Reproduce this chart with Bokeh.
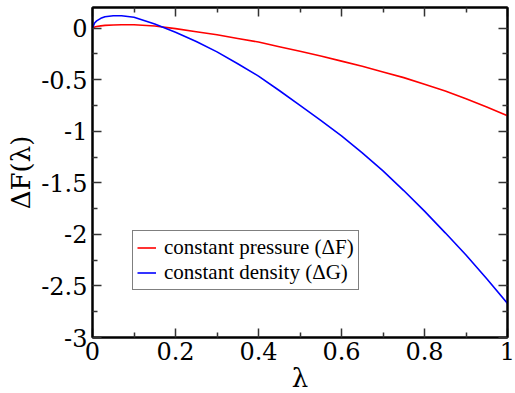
from bokeh.plotting import figure
from bokeh.models import LinearAxis, FixedTicker, Range1d, Legend, LegendItem
from bokeh.embed import file_html
from bokeh.resources import INLINE

lam = [0.0, 0.005, 0.01, 0.02, 0.03, 0.05, 0.07, 0.1, 0.15, 0.2, 0.25, 0.3, 0.35, 0.4,
       0.45, 0.5, 0.55, 0.6, 0.65, 0.7, 0.75, 0.8, 0.85, 0.9, 0.95, 1.0]
dF_pressure = [0.0, 0.010, 0.015, 0.022, 0.027, 0.031, 0.033, 0.032, 0.020, -0.005, -0.035,
               -0.065, -0.10, -0.135, -0.18, -0.225, -0.27, -0.32, -0.37, -0.425, -0.48,
               -0.545, -0.61, -0.685, -0.765, -0.85]
dG_density = [0.0, 0.05, 0.07, 0.095, 0.11, 0.12, 0.12, 0.105, 0.04, -0.04, -0.13, -0.23,
              -0.345, -0.465, -0.605, -0.75, -0.895, -1.045, -1.21, -1.385, -1.575, -1.775,
              -1.985, -2.2, -2.43, -2.67]

x_ticks = [0, 0.2, 0.4, 0.6, 0.8, 1.0]
x_labels = ["0", "0.2", "0.4", "0.6", "0.8", "1"]
y_ticks = [0, -0.5, -1, -1.5, -2, -2.5, -3]
y_labels = ["0", "-0.5", "-1", "-1.5", "-2", "-2.5", "-3"]
x_minor = [0.1, 0.3, 0.5, 0.7, 0.9]
y_minor = [-0.25, -0.75, -1.25, -1.75, -2.25, -2.75]
x_title = "λ"
y_title = "ΔF(λ)"
series_names = ["constant pressure (ΔF)", "constant density (ΔG)"]

AXIS_FONT = "DejaVu Serif"
LEGEND_FONT = "Liberation Serif"

p = figure(frame_width=415, frame_height=330, output_backend="svg", toolbar_location=None,
           x_range=Range1d(0, 1), y_range=Range1d(-3, 0.2),
           x_axis_location=None, y_axis_location=None,
           min_border_left=92, min_border_top=7, min_border_right=8, min_border_bottom=0)
p.background_fill_color = "white"
p.border_fill_color = "white"
p.outline_line_color = "black"
p.outline_line_width = 2
p.xgrid.visible = False
p.ygrid.visible = False

r1 = p.line(lam, dF_pressure, line_color="#ff0000", line_width=1.6)
r2 = p.line(lam, dG_density, line_color="#0000ff", line_width=1.6)


def make_axis(ticks, minor, labels, title, show):
    ax = LinearAxis()
    ax.ticker = FixedTicker(ticks=ticks, minor_ticks=minor)
    ax.major_tick_in = 9
    ax.major_tick_out = 0
    ax.minor_tick_in = 5
    ax.minor_tick_out = 0
    ax.major_tick_line_width = 1.5
    ax.minor_tick_line_width = 1.5
    ax.major_tick_line_color = "#333333"
    ax.minor_tick_line_color = "#333333"
    ax.axis_line_color = "black"
    ax.axis_line_width = 2
    ax.major_label_text_font = AXIS_FONT
    ax.axis_label_text_font = AXIS_FONT
    if show:
        ax.major_label_overrides = {t: l for t, l in zip(ticks, labels)}
        ax.major_label_text_font_size = "24px"
        ax.major_label_text_color = "black"
        ax.major_label_text_line_height = 1.0
        ax.axis_label = title
        ax.axis_label_text_font_size = "26px"
        ax.axis_label_text_font_style = "normal"
        ax.axis_label_text_color = "black"
        ax.axis_label_text_line_height = 1.0
    else:
        # mirrored tick marks only (Grace style), no labels
        ax.major_label_overrides = {t: "" for t in ticks}
        ax.major_label_text_font_size = "1px"
        ax.major_label_standoff = 0
    return ax


bottom = make_axis(x_ticks, x_minor, x_labels, x_title, True)
bottom.major_label_standoff = 4
bottom.axis_label_standoff = 0
left = make_axis(y_ticks, y_minor, y_labels, y_title, True)
left.major_label_standoff = 5
left.axis_label_standoff = 2
top = make_axis(x_ticks, x_minor, x_labels, None, False)
right = make_axis(y_ticks, y_minor, y_labels, None, False)
p.add_layout(bottom, "below")
p.add_layout(left, "left")
p.add_layout(top, "above")
p.add_layout(right, "right")

legend = Legend(items=[LegendItem(label=series_names[0], renderers=[r1]),
                       LegendItem(label=series_names[1], renderers=[r2])],
                location=(40, 47))
legend.label_text_font = LEGEND_FONT
legend.label_text_font_size = "21px"
legend.label_text_color = "black"
legend.label_text_line_height = 1.0
legend.border_line_color = "black"
legend.border_line_width = 1.5
legend.padding = 4
legend.spacing = 0
legend.margin = 0
legend.glyph_width = 19
legend.glyph_height = 21
legend.label_height = 21
legend.label_standoff = 8
legend.background_fill_alpha = 1
p.add_layout(legend, "center")

open("out.html", "w").write(file_html(p, INLINE))
